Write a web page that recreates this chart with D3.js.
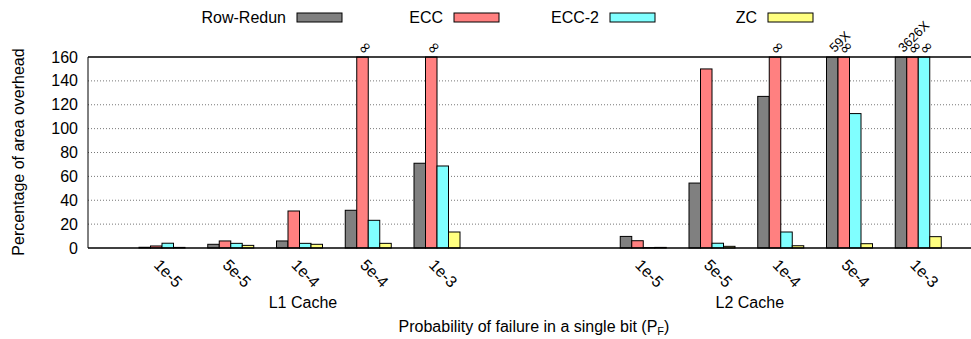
<!DOCTYPE html>
<html>
<head>
<meta charset="utf-8">
<script src="https://cdn.jsdelivr.net/npm/d3@7"></script>
<style>
  body { margin: 0; background: #fff; }
  text { font-family: "Liberation Sans", Arial, Helvetica, sans-serif; fill: #000; }
</style>
</head>
<body>
<svg id="chart" width="971" height="339"></svg>
<script>
// Failure probabilities per bit, shared by both cache levels
const probabilities = ["1e-5", "5e-5", "1e-4", "5e-4", "1e-3"];
const caches = ["L1 Cache", "L2 Cache"];
const seriesNames = ["Row-Redun", "ECC", "ECC-2", "ZC"];
const seriesColors = ["#808080", "#ff8080", "#80ffff", "#ffff80"];

// Area overhead (%) per scheme; Infinity = scheme cannot reach the target yield
const rowRedunL1 = [0.6, 3.1, 5.9, 31.6, 71];
const eccL1      = [1.7, 5.9, 31, Infinity, Infinity];
const ecc2L1     = [4.0, 3.9, 3.9, 23.2, 68.7];
const zcL1       = [0.5, 2.2, 3.1, 3.9, 13.4];

const rowRedunL2 = [9.7, 54.4, 127, 5900, 362600];
const eccL2      = [6.1, 150, Infinity, Infinity, Infinity];
const ecc2L2     = [0.3, 4.0, 13.4, 112.6, Infinity];
const zcL2       = [0.5, 1.4, 1.9, 3.6, 9.5];

const yTicks = [0, 20, 40, 60, 80, 100, 120, 140, 160];

const valuesByCache = [
  [rowRedunL1, eccL1, ecc2L1, zcL1],
  [rowRedunL2, eccL2, ecc2L2, zcL2]
];
// first histogram slot of each cache cluster (two empty slots between clusters)
const clusterStart = [0, 7];

const W = 971, H = 339;
const svg = d3.select("#chart");

const yMax = 160;
const y = d3.scaleLinear().domain([0, yMax]).range([248, 57]).clamp(true);
const slot = d3.scaleLinear().domain([0, 11]).range([162, 918.25]);
const inGroup = d3.scaleBand().domain(seriesNames).range([-23, 23]).padding(0);

const plotLeft = 88, plotRight = W + 30;

// dotted grid
svg.append("g")
  .selectAll("line")
  .data(yTicks.filter(t => t > 0 && t < yMax))
  .join("line")
  .attr("x1", plotLeft).attr("x2", plotRight)
  .attr("y1", d => y(d)).attr("y2", d => y(d))
  .attr("stroke", "#777").attr("stroke-width", 1)
  .attr("stroke-dasharray", "1,2");

// y tick labels
svg.append("g")
  .selectAll("text")
  .data(yTicks)
  .join("text")
  .attr("x", 78).attr("y", d => y(d))
  .attr("text-anchor", "end")
  .attr("dominant-baseline", "central")
  .style("font-size", "16px")
  .text(d => d);

// flatten bars
const bars = [];
caches.forEach((c, ci) => {
  probabilities.forEach((p, pi) => {
    seriesNames.forEach((s, si) => {
      bars.push({
        cache: ci, prob: pi, series: s, color: seriesColors[si],
        value: valuesByCache[ci][si][pi],
        cx: slot(clusterStart[ci] + pi)
      });
    });
  });
});

svg.append("g")
  .selectAll("rect")
  .data(bars)
  .join("rect")
  .attr("x", d => d.cx + inGroup(d.series))
  .attr("width", inGroup.bandwidth())
  .attr("y", d => y(Math.min(d.value, yMax)))
  .attr("height", d => y(0) - y(Math.min(d.value, yMax)))
  .attr("fill", d => d.color)
  .attr("stroke", "#000").attr("stroke-width", 1);

// border: left, top, bottom
svg.append("line").attr("x1", plotLeft).attr("x2", plotLeft)
  .attr("y1", y(0)).attr("y2", y(yMax)).attr("stroke", "#000");
svg.append("line").attr("x1", plotLeft).attr("x2", plotRight)
  .attr("y1", y(yMax)).attr("y2", y(yMax)).attr("stroke", "#000").attr("stroke-width", 1.5);
svg.append("line").attr("x1", plotLeft).attr("x2", plotRight)
  .attr("y1", y(0)).attr("y2", y(0)).attr("stroke", "#000").attr("stroke-width", 1.5);

// labels for bars that run off the top
const offScale = bars.filter(d => d.value > yMax);
svg.append("g")
  .selectAll("text")
  .data(offScale)
  .join("text")
  .attr("transform", d => {
    const finite = Number.isFinite(d.value);
    const bx = d.cx + inGroup(d.series) + inGroup.bandwidth() / 2 + (finite ? 2.5 : 1.3);
    return `translate(${bx},${finite ? 53 : 56}) rotate(-45)`;
  })
  .attr("text-anchor", "start")
  .style("font-family", d => Number.isFinite(d.value) ? null : "'DejaVu Sans', sans-serif")
  .style("font-size", d => Number.isFinite(d.value) ? "13px" : "16px")
  .text(d => Number.isFinite(d.value) ? `${d.value / 100}X` : "\u221E");

// x tick labels (rotated)
const tickData = [];
caches.forEach((c, ci) => probabilities.forEach((p, pi) =>
  tickData.push({ label: p, cx: slot(clusterStart[ci] + pi) })));
svg.append("g")
  .selectAll("text")
  .data(tickData)
  .join("text")
  .attr("transform", d => `translate(${d.cx - 9},266) rotate(45)`)
  .attr("text-anchor", "start")
  .style("font-size", "16px")
  .text(d => d.label);

// cluster titles
const clusterTitleX = [slot(2.05), slot(8.55)];
svg.append("g")
  .selectAll("text")
  .data(caches)
  .join("text")
  .attr("x", (d, i) => clusterTitleX[i]).attr("y", 302)
  .attr("text-anchor", "middle")
  .attr("dominant-baseline", "central")
  .style("font-size", "16px")
  .text(d => d);

// axis titles
svg.append("text")
  .attr("transform", "translate(18,152) rotate(-90)")
  .attr("text-anchor", "middle")
  .attr("dominant-baseline", "central")
  .style("font-size", "16px")
  .text("Percentage of area overhead");

const xt = svg.append("text")
  .attr("x", 534).attr("y", 332)
  .attr("text-anchor", "middle")
  .style("font-size", "16px");
xt.append("tspan").text("Probability of failure in a single bit (P");
xt.append("tspan").attr("dy", 3).style("font-size", "11px").text("F");
xt.append("tspan").attr("dy", -3).text(")");

// legend
const legendTextRight = [286, 443, 599, 757];
const legend = svg.append("g")
  .selectAll("g")
  .data(seriesNames)
  .join("g");
legend.append("text")
  .attr("x", (d, i) => legendTextRight[i]).attr("y", 17.5)
  .attr("text-anchor", "end")
  .attr("dominant-baseline", "central")
  .style("font-size", "16px")
  .text(d => d);
legend.append("rect")
  .attr("x", (d, i) => legendTextRight[i] + 11).attr("y", 13)
  .attr("width", 45).attr("height", 9)
  .attr("fill", (d, i) => seriesColors[i])
  .attr("stroke", "#000").attr("stroke-width", 1);
</script>
</body>
</html>
